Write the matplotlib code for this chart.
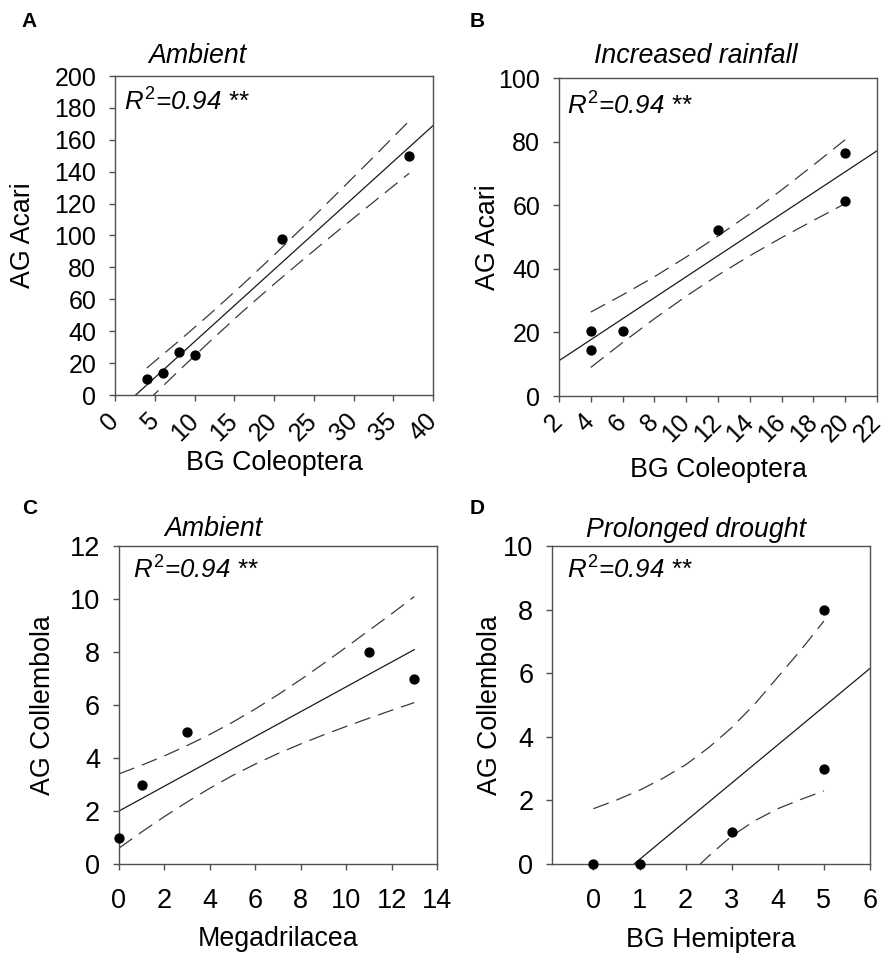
import matplotlib
matplotlib.use("Agg")
import matplotlib.pyplot as plt

plt.rcParams['font.family'] = ['Liberation Sans', 'DejaVu Sans']
plt.rcParams['mathtext.fontset'] = 'custom'
plt.rcParams['mathtext.it'] = 'Liberation Sans:italic'
plt.rcParams['mathtext.rm'] = 'Liberation Sans'

# ---------------- data ----------------
# Panel A
a_x = [4, 6, 8, 10, 21, 37]
a_y = [10, 14, 27, 25, 98, 150]
a_fit_x = [2.6, 40]
a_fit_y = [0, 168.9]
a_band_x = [4, 8, 12, 16, 20, 24, 28, 32, 37]
a_upper = [16.9, 33.7, 51.0, 69.0, 87.7, 107.0, 126.7, 146.6, 171.8]
a_lower = [-4.2, 15.1, 33.9, 52.1, 69.5, 86.3, 102.8, 118.9, 139.0]

# Panel B
b_x = [4, 4, 6, 12, 20, 20]
b_y = [20.4, 14.4, 20.4, 52.2, 76.3, 61.2]
b_fit_x = [2, 22]
b_fit_y = [11.1, 77.1]
b_band_x = [4, 6, 8, 10, 12, 14, 16, 18, 20]
b_upper = [26.4, 31.8, 37.5, 43.7, 50.3, 57.3, 64.8, 72.6, 80.6]
b_lower = [9.0, 16.8, 24.3, 31.4, 38.0, 44.1, 49.8, 55.2, 60.5]

# Panel C
c_x = [0, 1, 3, 11, 13]
c_y = [1, 3, 5, 8, 7]
c_fit_x = [0, 13]
c_fit_y = [2.0, 8.09]
c_band_x = [0, 1, 2, 3, 4, 5, 6, 7, 8, 9, 10, 11, 12, 13]
c_upper = [3.40, 3.73, 4.08, 4.47, 4.89, 5.35, 5.85, 6.39, 6.96, 7.56, 8.18, 8.81, 9.44, 10.09]
c_lower = [0.60, 1.21, 1.79, 2.34, 2.86, 3.34, 3.77, 4.17, 4.53, 4.87, 5.19, 5.50, 5.80, 6.09]

# Panel D
d_x = [0, 1, 3, 5, 5]
d_y = [0, 0, 1, 8, 3]
d_fit_x = [0.88, 6]
d_fit_y = [0, 6.15]
d_band_x = [0, 0.5, 1, 1.5, 2, 2.5, 3, 3.5, 4, 4.5, 5]
d_upper = [1.74, 2.01, 2.32, 2.69, 3.12, 3.66, 4.29, 5.03, 5.88, 6.73, 7.64]
d_lower = [-3.86, -2.93, -2.04, -1.21, -0.44, 0.25, 0.88, 1.36, 1.74, 2.03, 2.30]

a_xticks = [0, 5, 10, 15, 20, 25, 30, 35, 40]
a_yticks = [0, 20, 40, 60, 80, 100, 120, 140, 160, 180, 200]
b_xticks = [2, 4, 6, 8, 10, 12, 14, 16, 18, 20, 22]
b_yticks = [0, 20, 40, 60, 80, 100]
c_xticks = [0, 2, 4, 6, 8, 10, 12, 14]
c_yticks = [0, 2, 4, 6, 8, 10, 12]
d_xticks = [0, 1, 2, 3, 4, 5, 6]
d_yticks = [0, 2, 4, 6, 8, 10]

r2_text = r'$R^2$=0.94 **'

# ---------------- layout ----------------
W, H = 886, 955
fig = plt.figure(figsize=(W / 100, H / 100), dpi=100)


def rect(l, r, t, b):
    return [l / W, 1 - b / H, (r - l) / W, (b - t) / H]


panels = [
    dict(letter='A', rect=rect(115, 433, 76, 395), x=a_x, y=a_y, fx=a_fit_x, fy=a_fit_y,
         bx=a_band_x, bu=a_upper, bl=a_lower, xlim=(0, 40), ylim=(0, 200),
         xt=a_xticks, yt=a_yticks, rot=True, title='Ambient', tpos=(0.258, 1.063),
         r2pos=(0.028, 0.893), xlabel='BG Coleoptera', ylabel='AG Acari',
         xlc=-0.213, ylc=-0.289, fs_tick=18, letter_pos=(21.7, 26.7)),
    dict(letter='B', rect=rect(559, 877, 78, 396), x=b_x, y=b_y, fx=b_fit_x, fy=b_fit_y,
         bx=b_band_x, bu=b_upper, bl=b_lower, xlim=(2, 22), ylim=(0, 100),
         xt=b_xticks, yt=b_yticks, rot=True, title='Increased rainfall', tpos=(0.431, 1.069),
         r2pos=(0.025, 0.884), xlabel='BG Coleoptera', ylabel='AG Acari',
         xlc=-0.233, ylc=-0.223, fs_tick=18, letter_pos=(469.7, 26.7)),
    dict(letter='C', rect=rect(119, 437, 546, 864), x=c_x, y=c_y, fx=c_fit_x, fy=c_fit_y,
         bx=c_band_x, bu=c_upper, bl=c_lower, xlim=(0, 14), ylim=(0, 12),
         xt=c_xticks, yt=c_yticks, rot=False, title='Ambient', tpos=(0.296, 1.053),
         r2pos=(0.044, 0.896), xlabel='Megadrilacea', ylabel='AG Collembola',
         xlc=-0.235, ylc=-0.24, fs_tick=19.5, letter_pos=(21.7, 513.7)),
    dict(letter='D', rect=rect(552, 870, 546, 864), x=d_x, y=d_y, fx=d_fit_x, fy=d_fit_y,
         bx=d_band_x, bu=d_upper, bl=d_lower, xlim=(-0.9, 6), ylim=(0, 10),
         xt=d_xticks, yt=d_yticks, rot=False, title='Prolonged drought', tpos=(0.453, 1.05),
         r2pos=(0.047, 0.896), xlabel='BG Hemiptera', ylabel='AG Collembola',
         xlc=-0.239, ylc=-0.196, fs_tick=19.5, letter_pos=(469.7, 513.7)),
]

spine_col = '#505050'
line_col = '#1a1a1a'
dash_col = '#3a3a3a'

for p in panels:
    ax = fig.add_axes(p['rect'])
    ax.set_xlim(*p['xlim'])
    ax.set_ylim(*p['ylim'])

    # regression line and confidence bands
    ax.plot(p['fx'], p['fy'], color=line_col, lw=0.9, zorder=2)
    for band in (p['bu'], p['bl']):
        ln, = ax.plot(p['bx'], band, color=dash_col, lw=0.9, zorder=2)
        ln.set_dashes((13, 6.5))
    ax.plot(p['x'], p['y'], 'o', color='black', markersize=6.4, zorder=3, clip_on=False)

    for s in ax.spines.values():
        s.set_color(spine_col)
        s.set_linewidth(1.0)

    ax.set_xticks(p['xt'])
    ax.set_yticks(p['yt'])
    ax.tick_params(axis='both', direction='out', length=4, width=1.0, color=spine_col,
                   labelsize=p['fs_tick'], labelcolor='black', top=False, right=False)
    ax.tick_params(axis='y', pad=9.5)
    if p['rot']:
        ax.tick_params(axis='x', pad=12)
        for lab in ax.get_xticklabels():
            lab.set_rotation(45)
            lab.set_ha('right')
            lab.set_va('center')
            lab.set_rotation_mode('anchor')
    else:
        ax.tick_params(axis='x', pad=13)

    ax.set_xlabel(p['xlabel'], fontsize=19.3, va='center')
    ax.xaxis.set_label_coords(0.5, p['xlc'])
    ax.set_ylabel(p['ylabel'], fontsize=19.3, va='center')
    ax.yaxis.set_label_coords(p['ylc'], 0.5)

    ax.text(p['tpos'][0], p['tpos'][1], p['title'], transform=ax.transAxes,
            fontsize=19.3, style='italic', ha='center', va='center')
    ax.text(p['r2pos'][0], p['r2pos'][1], r2_text, transform=ax.transAxes,
            fontsize=18.6, style='italic', ha='left', va='baseline')

    lx, ly = p['letter_pos']
    fig.text(lx / W, 1 - ly / H, p['letter'], fontsize=15, fontweight='bold',
             ha='left', va='baseline')

fig.savefig('out.png', dpi=100)
